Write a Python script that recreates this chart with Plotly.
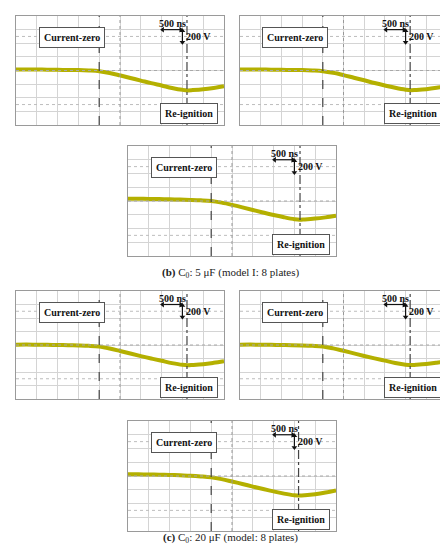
import plotly.graph_objects as go

# time axis in scope divisions (500 ns/div), voltage in divisions (200 V/div)
t_div = [0, 0.5, 1, 1.5, 2, 2.5, 3, 3.5, 4, 4.5, 5, 5.5, 6, 6.5, 7, 7.5, 8, 8.25, 8.5, 9, 9.5, 10]

v_b1 = [0.07, 0.08, 0.07, 0.06, 0.05, 0.04, 0.03, 0.0, -0.05, -0.18, -0.36, -0.55, -0.74, -0.93, -1.1, -1.28, -1.42, -1.46, -1.44, -1.38, -1.28, -1.15]
v_b2 = [0.07, 0.08, 0.07, 0.06, 0.05, 0.04, 0.03, 0.0, -0.05, -0.17, -0.34, -0.53, -0.72, -0.92, -1.1, -1.27, -1.41, -1.45, -1.43, -1.37, -1.27, -1.14]
v_b3 = [0.16, 0.16, 0.15, 0.14, 0.12, 0.1, 0.08, 0.05, 0.0, -0.12, -0.28, -0.46, -0.65, -0.84, -1.02, -1.18, -1.32, -1.36, -1.34, -1.28, -1.19, -1.08]
v_c1 = [0.02, 0.03, 0.02, 0.01, 0.0, -0.01, -0.03, -0.06, -0.12, -0.26, -0.44, -0.63, -0.82, -1.0, -1.17, -1.34, -1.47, -1.5, -1.48, -1.42, -1.32, -1.2]
v_c2 = [0.02, 0.03, 0.02, 0.01, 0.0, -0.01, -0.03, -0.06, -0.11, -0.25, -0.43, -0.62, -0.81, -0.99, -1.16, -1.33, -1.46, -1.49, -1.47, -1.41, -1.31, -1.19]
v_c3 = [0.12, 0.12, 0.11, 0.1, 0.08, 0.05, 0.02, -0.03, -0.1, -0.23, -0.4, -0.58, -0.77, -0.95, -1.12, -1.28, -1.4, -1.42, -1.4, -1.32, -1.2, -1.05]

reignition_t = [8.22, 8.22, 8.27, 8.22, 8.22, 8.2]
current_zero_t = 4.0

captions = ["<b>(b)</b> C<sub>0</sub>: 5 μF (model I: 8 plates)",
            "<b>(c)</b> C<sub>0</sub>: 20 μF (model: 8 plates)"]

W, H = 448, 550
# panel boxes in pixels: left, right, top, bottom
panels = [(8, 216, 8, 117), (232, 439, 8, 117), (120, 328, 138, 248),
          (8, 216, 283, 391), (232, 439, 283, 391), (120, 328, 413, 523)]
series = [v_b1, v_b2, v_b3, v_c1, v_c2, v_c3]

TRACE = "#b4b000"
INK = "#111111"
SERIF = "Liberation Serif"

fig = go.Figure()
layout = {}
shapes = []
annotations = []


def line(xa, ya, x0, x1, y0, y1, color, width, dash):
    shapes.append(dict(type="line", xref=xa, yref=ya, x0=x0, x1=x1, y0=y0, y1=y1,
                       line=dict(color=color, width=width, dash=dash), layer="above"))


for i, ((x0, x1, y0, y1), vals) in enumerate(zip(panels, series)):
    n = "" if i == 0 else str(i + 1)
    xa, ya = "x" + n, "y" + n
    layout["xaxis" + n] = dict(domain=[x0 / W, x1 / W], range=[0, 10], anchor=ya,
                               tickmode="linear", tick0=0, dtick=1, showgrid=True,
                               gridcolor="#d4d4d4", gridwidth=1,
                               showticklabels=False, ticks="", zeroline=False,
                               showline=True, linecolor="#9a9a9a", mirror=True, fixedrange=True)
    layout["yaxis" + n] = dict(domain=[1 - y1 / H, 1 - y0 / H], range=[-4, 4], anchor=xa,
                               tickmode="linear", tick0=0, dtick=1, showgrid=True,
                               gridcolor="#d4d4d4", gridwidth=1,
                               showticklabels=False, ticks="", zeroline=False,
                               showline=True, linecolor="#9a9a9a", mirror=True, fixedrange=True)

    # dotted reference lines
    for yy in (2.5, -2.5):
        line(xa, ya, 0, 10, yy, yy, "#bdbdbd", 1, "dot")
    line(xa, ya, 0, 10, 0, 0, "#a8a8a8", 1, "dot")
    line(xa, ya, 5, 5, -4, 4, "#999999", 1, "dot")
    # cursors
    line(xa, ya, current_zero_t, current_zero_t, -4, 4, "#444444", 1.2, "dash")
    line(xa, ya, reignition_t[i], reignition_t[i], -4, 4, "#444444", 1.2, "dashdot")

    fig.add_trace(go.Scatter(x=t_div, y=vals, xaxis=xa, yaxis=ya, mode="lines",
                             line=dict(color=TRACE, width=4, shape="spline"),
                             hoverinfo="skip", showlegend=False))
    # scope markers on the frame
    fig.add_trace(go.Scatter(x=[10.12, 5.5], y=[-0.28, -4.12], xaxis=xa, yaxis=ya, mode="markers",
                             marker=dict(color=TRACE, size=3), cliponaxis=False,
                             hoverinfo="skip", showlegend=False))

    # scale arrows (500 ns / div and 200 V / div)
    line(xa, ya, 7.1, 7.9, 3.0, 3.0, INK, 1.2, "solid")
    line(xa, ya, 8.0, 8.0, 2.12, 2.88, INK, 1.2, "solid")
    fig.add_trace(go.Scatter(x=[7.05, 7.92, 8.0, 8.0], y=[3.0, 3.0, 2.92, 2.08],
                             xaxis=xa, yaxis=ya, mode="markers",
                             marker=dict(color=INK, size=5,
                                         symbol=["triangle-left", "triangle-right",
                                                 "triangle-up", "triangle-down"]),
                             hoverinfo="skip", showlegend=False))
    annotations.append(dict(xref=xa, yref=ya, x=7.5, y=3.42, text="<b>500 ns</b>", showarrow=False,
                            font=dict(family=SERIF, size=10, color=INK)))
    annotations.append(dict(xref=xa, yref=ya, x=8.08, y=2.5, text="<b>200 V</b>", showarrow=False,
                            xanchor="left", font=dict(family=SERIF, size=10, color=INK)))
    annotations.append(dict(xref=xa, yref=ya, x=2.67, y=2.43, text="<b>Current-zero</b>",
                            showarrow=False, bgcolor="white", bordercolor="#555555", borderwidth=1,
                            borderpad=4, font=dict(family=SERIF, size=10, color=INK)))
    annotations.append(dict(xref=xa, yref=ya, x=8.34, y=-3.18, text="<b>Re-ignition</b>",
                            showarrow=False, bgcolor="white", bordercolor="#555555", borderwidth=1,
                            borderpad=4, font=dict(family=SERIF, size=10, color=INK)))

annotations.append(dict(xref="paper", yref="paper", x=222 / W, y=1 - 265 / H, text=captions[0],
                        showarrow=False, font=dict(family=SERIF, size=11, color="#222222")))
annotations.append(dict(xref="paper", yref="paper", x=222 / W, y=1 - 539 / H, text=captions[1],
                        showarrow=False, font=dict(family=SERIF, size=11, color="#222222")))

fig.update_layout(**layout)
fig.update_layout(width=W, height=H, margin=dict(l=0, r=0, t=0, b=0),
                  paper_bgcolor="white", plot_bgcolor="white",
                  shapes=shapes, annotations=annotations, showlegend=False)

fig.write_html("out.html")
